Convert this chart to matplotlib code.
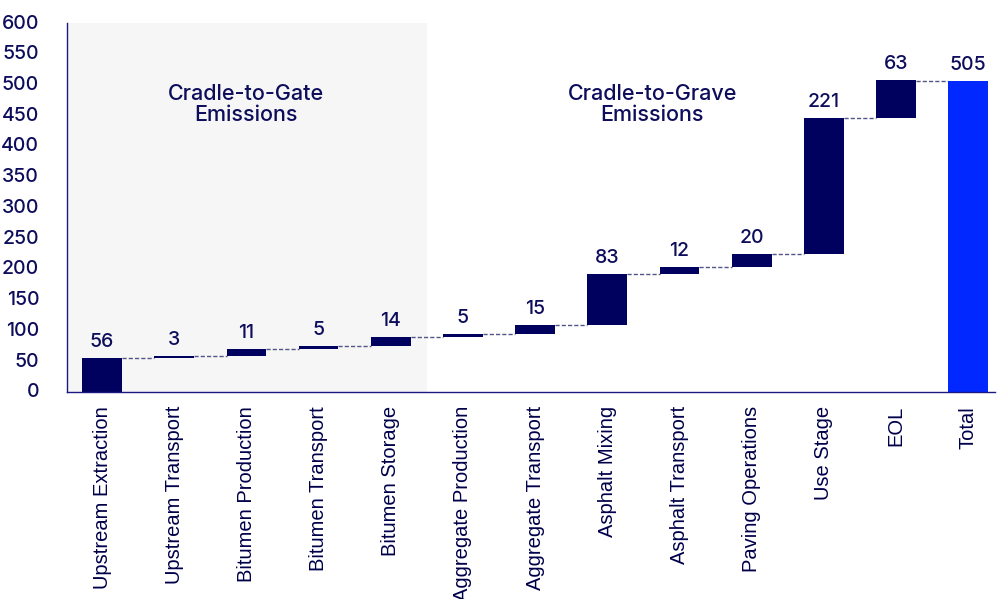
import numpy as np
import matplotlib.pyplot as plt
from matplotlib.transforms import ScaledTranslation

# waterfall data
categories = ["Upstream Extraction", "Upstream Transport", "Bitumen Production",
              "Bitumen Transport", "Bitumen Storage", "Aggregate Production",
              "Aggregate Transport", "Asphalt Mixing", "Asphalt Transport",
              "Paving Operations", "Use Stage", "EOL", "Total"]
steps = [56, 3, 11, 5, 14, 5, 15, 83, 12, 20, 221, 63]
total = 505

navy = "#00005e"
blue = "#0028ff"
text_c = "#0d0d5c"

plt.rcParams['font.family'] = ['Inter', 'DejaVu Sans']

fig = plt.figure(figsize=(10, 5.99), dpi=100)
ax = fig.add_axes([0.067, 0.3456, 0.928, 0.616])

x = np.arange(len(categories))
ends = np.cumsum(steps)
starts = ends - np.array(steps)
w = 0.55

# cradle-to-gate shading
ax.axvspan(-0.5, 4.5, color="#f6f6f6", zorder=0, lw=0)

ax.bar(x[:-1], steps, bottom=starts, width=w, color=navy, zorder=2)
ax.bar(x[-1], total, width=w, color=blue, zorder=2)

# connectors
levels = list(ends[:-1]) + [total]
for i, lv in enumerate(levels):
    ax.plot([x[i] + w / 2, x[i + 1] - w / 2], [lv, lv], ls=(0, (3, 1.5)),
            color="#55558a", lw=1.0, zorder=1)

# value labels
for i, v in enumerate(steps):
    ax.annotate(str(v), (x[i], ends[i]), xytext=(0, 5), textcoords="offset points",
                ha="center", va="bottom", fontsize=14, color=text_c, weight=500)
ax.annotate(str(total), (x[-1], total), xytext=(0, 5), textcoords="offset points",
            ha="center", va="bottom", fontsize=14, color=text_c, weight=500)

ax.text(2, 467, "Cradle-to-Gate\nEmissions", ha="center", va="center",
        fontsize=15.5, color=text_c, linespacing=1.05, weight=500)
ax.text(7.62, 467, "Cradle-to-Grave\nEmissions", ha="center", va="center",
        fontsize=15.5, color=text_c, linespacing=1.05, weight=500)

ax.set_xlim(-0.485, 12.37)
ax.set_ylim(0, 600)
ax.set_yticks(range(0, 601, 50))
ax.set_xticks(x)
ax.set_xticklabels(categories, rotation=90, fontsize=14.5, color="#00004a",
                   family=['Liberation Sans', 'DejaVu Sans'])
ax.tick_params(axis="y", length=0, pad=20, labelsize=14, labelcolor=text_c)
ax.tick_params(axis="x", length=0, pad=10)
lift = ScaledTranslation(0, 1.5 / 100, fig.dpi_scale_trans)
for lab in ax.get_yticklabels():
    lab.set_horizontalalignment("right")
    lab.set_fontweight(500)
    lab.set_transform(lab.get_transform() + lift)

for s in ["top", "right"]:
    ax.spines[s].set_visible(False)
for s in ["left", "bottom"]:
    ax.spines[s].set_color("#1a1a80")
    ax.spines[s].set_linewidth(1.0)

fig.savefig("out.png", dpi=100)
